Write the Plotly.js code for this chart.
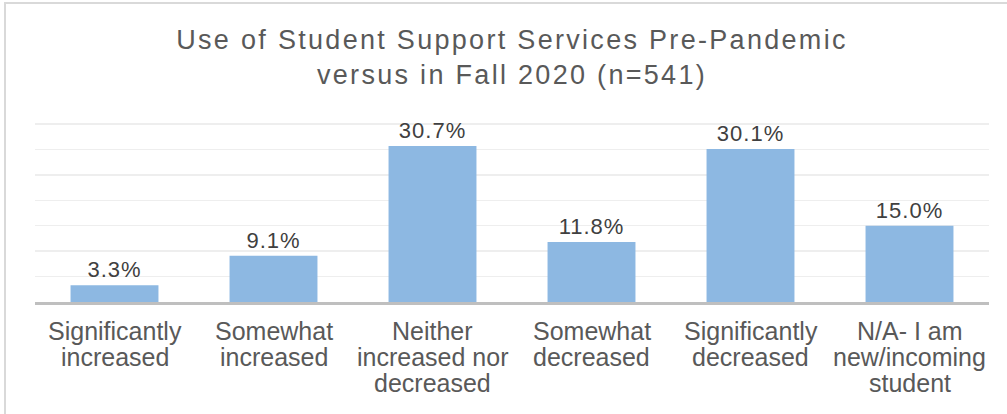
<!DOCTYPE html>
<html>
<head>
<meta charset="utf-8">
<script src="https://cdn.plot.ly/plotly-3.0.1.min.js"></script>
<style>
  html, body { margin: 0; padding: 0; background: #fff; overflow: hidden; }
  #wrap { position: relative; width: 1007px; height: 414px; overflow: hidden; }
  #chart { width: 1007px; height: 414px; }
  #frame { position: absolute; left: 4px; top: 2px; width: 1020px; height: 430px;
           border-left: 2px solid #d9d9d9; border-top: 2px solid #d9d9d9; pointer-events: none; }
  .gtitle { letter-spacing: 2.3px; }
  .bartext { letter-spacing: 1px; }
</style>
</head>
<body>
<div id="wrap">
  <div id="chart"></div>
  <div id="frame"></div>
</div>
<script>
// ---- data ----
const categories = [
  "Significantly<br>increased",
  "Somewhat<br>increased",
  "Neither<br>increased nor<br>decreased",
  "Somewhat<br>decreased",
  "Significantly<br>decreased",
  "N/A- I am<br>new/incoming<br>student"
];
const percentages = [3.3, 9.1, 30.7, 11.8, 30.1, 15.0];
const chartTitle = "Use of Student Support Services Pre-Pandemic<br>versus in Fall 2020 (n=541)";

// ---- style ----
const FONT = "Liberation Sans, Arial, sans-serif";
const LINE_GAP = 26;

const trace = {
  type: "bar",
  x: categories,
  y: percentages,
  marker: { color: "#8db8e2" },
  texttemplate: "%{y:.1f}%",
  textposition: "outside",
  cliponaxis: false,
  textfont: { family: FONT, size: 22, color: "#404040" },
  hoverinfo: "skip"
};

// category labels drawn line by line (tight line spacing like the original)
const annotations = [];
categories.forEach(cat => {
  cat.split("<br>").forEach((line, i) => {
    annotations.push({
      xref: "x", x: cat,
      yref: "paper", y: 0,
      yanchor: "top", xanchor: "center",
      yshift: -(13 + i * LINE_GAP),
      text: line,
      showarrow: false,
      font: { family: FONT, size: 25, color: "#595959" }
    });
  });
});

const layout = {
  width: 1007, height: 414,
  margin: { l: 35, r: 18, t: 123, b: 112 },
  paper_bgcolor: "#ffffff",
  plot_bgcolor: "#ffffff",
  bargap: 0.447,
  showlegend: false,
  title: {
    text: chartTitle,
    font: { family: FONT, size: 27, color: "#595959" },
    xref: "paper", x: 0.5, xanchor: "center",
    yref: "container", y: 1 - 49 / 414, yanchor: "top"
  },
  xaxis: {
    type: "category",
    showticklabels: false,
    ticks: "",
    showline: true, linecolor: "#bfbfbf", linewidth: 2.5,
    showgrid: false, zeroline: false, fixedrange: true
  },
  yaxis: {
    range: [0, 35.2],
    tickvals: [5, 10, 15, 20, 25, 30, 35],
    showticklabels: false,
    ticks: "",
    showgrid: true, gridcolor: "#eeeeee", gridwidth: 1.5,
    zeroline: false, showline: false, fixedrange: true
  },
  annotations: annotations
};

Plotly.newPlot("chart", [trace], layout, { displayModeBar: false, staticPlot: true });
</script>
</body>
</html>
